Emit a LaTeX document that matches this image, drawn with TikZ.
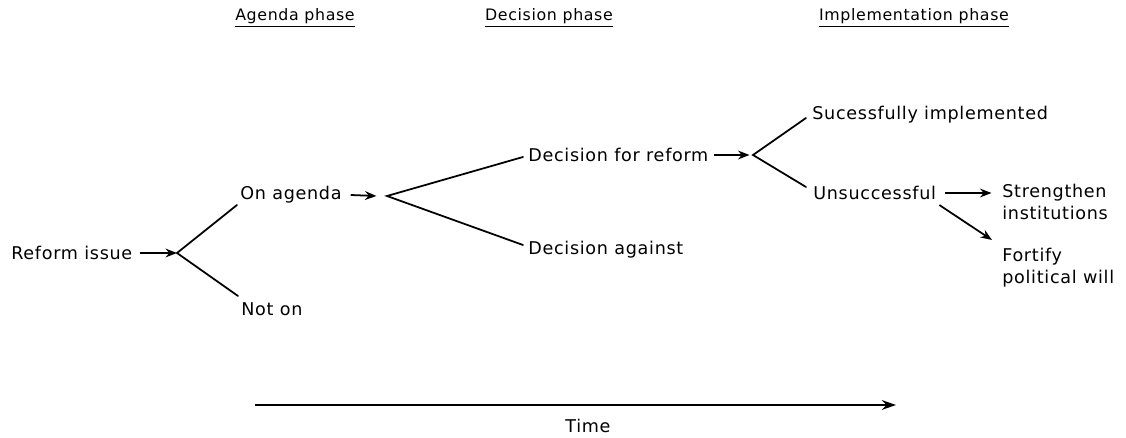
\documentclass[tikz,border=0pt]{standalone}
\usepackage{fontspec}
\setmainfont{DejaVu Sans}[LetterSpace=4]
\usetikzlibrary{arrows.meta}
\begin{document}
\begin{tikzpicture}[x=0.02cm,y=-0.02cm,
  lbl/.style={inner sep=0pt, font=\fontsize{10}{12.5}\selectfont, align=left},
  phase/.style={inner sep=0pt, font=\fontsize{9}{11}\selectfont},
  branch/.style={line width=1pt, line cap=round},
  ptr/.style={line width=1pt, -{Stealth[length=6.5pt,width=5pt]}},
  axis/.style={line width=1.3pt, -{Stealth[length=8pt,width=5.5pt]}},
]
\useasboundingbox (0,0) rectangle (1126,438);

% phase headings
\node[phase] (hagenda) at (295,18) {\underline{Agenda phase}};
\node[phase] (hdecision) at (549,18) {\underline{Decision phase}};
\node[phase] (himpl) at (914,18) {\underline{Implementation phase}};

% outcomes
\node[lbl, anchor=west] (reform) at (11,253) {Reform issue};
\node[lbl, anchor=west] (onagenda) at (240,195) {On agenda};
\node[lbl, anchor=west] (noton) at (241,309) {Not on};
\node[lbl, anchor=west] (dfor) at (528,155) {Decision for reform};
\node[lbl, anchor=west] (dagainst) at (528,250) {Decision against};
\node[lbl, anchor=west] (success) at (812,115) {Sucessfully implemented};
\node[lbl, anchor=west] (unsucc) at (813,193) {Unsuccessful};
\node[lbl, anchor=north west] (strengthen) at (1002,184) {Strengthen\\institutions};
\node[lbl, anchor=north west] (fortify) at (1002,248) {Fortify\\political will};

% branch points
\coordinate (v1) at (177,253);
\coordinate (v2) at (387,196);
\coordinate (v3) at (753,155);

% pointers into branch points
\draw[ptr] ([xshift=4pt]reform.east) -- (v1);
\draw[ptr] ([xshift=5pt]onagenda.east) -- ([xshift=-6pt]v2);
\draw[ptr] ([xshift=3pt]dfor.east) -- ([xshift=-2pt]v3);

% branches
\draw[branch] ([shift={(-3,10)}]onagenda.west) -- (v1) -- ([shift={(-3,-13)}]noton.west);
\draw[branch] ([shift={(-5,2)}]dfor.west) -- (v2) -- ([shift={(-5,-5)}]dagainst.west);
\draw[branch] ([shift={(-6,3)}]success.west) -- (v3) -- ([shift={(-7,-6)}]unsucc.west);

% remedies after failed implementation
\draw[ptr] ([xshift=5pt]unsucc.east) -- ([xshift=-6pt]strengthen.west |- unsucc.east);
\draw[ptr] ([shift={(3,12)}]unsucc.east) -- ([shift={(-10,-8)}]fortify.north west);

% time axis
\coordinate (t0) at (255,405);
\coordinate (t1) at (896,405);
\draw[axis] (t0) -- (t1);
\node[lbl] (time) at (588,426) {Time};
\end{tikzpicture}
\end{document}
